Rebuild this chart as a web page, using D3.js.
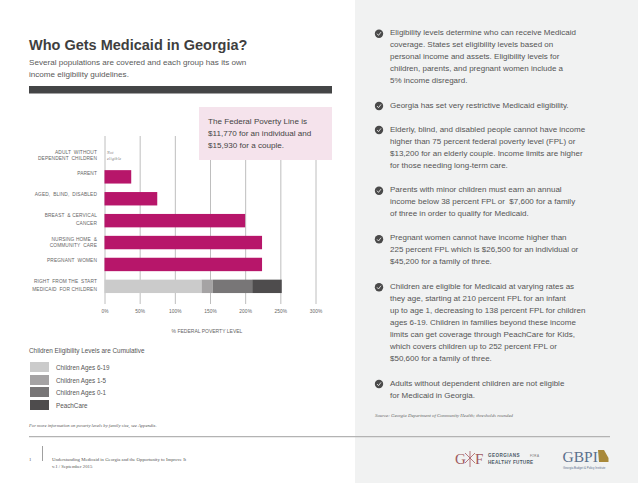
<!DOCTYPE html>
<html><head><meta charset="utf-8">
<script src="https://cdnjs.cloudflare.com/ajax/libs/d3/7.8.5/d3.min.js"></script>
<style>html,body{margin:0;padding:0;background:#fff}svg{display:block}text{font-family:"Liberation Sans",Arial,sans-serif}</style>
</head><body><svg id="c" width="638" height="493"></svg>
<script>
const categories=[["ADULT  WITHOUT","DEPENDENT  CHILDREN"],["PARENT"],["AGED,  BLIND,  DISABLED"],["BREAST  & CERVICAL","CANCER"],["NURSING HOME  &","COMMUNITY  CARE"],["PREGNANT  WOMEN"],["RIGHT  FROM THE  START","MEDICAID  FOR CHILDREN"]];
const groupValues=[0,38,75,200,224,224];
const childSeries=["Children Ages 6-19","Children Ages 1-5","Children Ages 0-1","PeachCare"];
const childLimits=[138,154,210,252];
const childColors=["#cbcbcb","#a5a3a4","#787677","#4e4c4d"];
const ticks=[0,50,100,150,200,250,300];
const bulletTexts=[
 ["Eligibility levels determine who can receive Medicaid","coverage. States set eligibility levels based on","personal income and assets. Eligibility levels for","children, parents, and pregnant women include a","5% income disregard."],
 ["Georgia has set very restrictive Medicaid eligibility."],
 ["Elderly, blind, and disabled people cannot have income","higher than 75 percent federal poverty level (FPL) or","$13,200 for an elderly couple. Income limits are higher","for those needing long-term care."],
 ["Parents with minor children must earn an annual","income below 38 percent FPL or  $7,600 for a family","of three in order to qualify for Medicaid."],
 ["Pregnant women cannot have income higher than","225 percent FPL which is $26,500 for an individual or","$45,200 for a family of three."],
 ["Children are eligible for Medicaid at varying rates as","they age, starting at 210 percent FPL for an infant","up to age 1, decreasing to 138 percent FPL for children","ages 6-19. Children in families beyond these income","limits can get coverage through PeachCare for Kids,","which covers children up to 252 percent FPL or","$50,600 for a family of three."],
 ["Adults without dependent children are not eligible","for Medicaid in Georgia."]
];
const svg=d3.select("#c");
const ink="#4a4a4a";
function T(x,y,s,o={}){return svg.append("text").attr("x",x).attr("y",y).text(s).attr("font-size",o.size||8.4).attr("fill",o.fill||ink).attr("text-anchor",o.anchor||"start").attr("font-weight",o.weight||null).attr("font-style",o.style||null).style("font-family",o.family||null).style("letter-spacing",o.ls||null).style("white-space","pre")}
function R(x,y,w,h,f){return svg.append("rect").attr("x",x).attr("y",y).attr("width",w).attr("height",h).attr("fill",f)}
R(355,0,283,483,"#f1f2f2");
T(29,49.500,"Who Gets Medicaid in Georgia?",{size:14.500,weight:700,fill:"#3f3f3f"});
T(29,64.500,"Several populations are covered and each group has its own",{size:8.100,fill:"#5a5a5a"});
T(29,76.500,"income eligibility guidelines.",{size:8.100,fill:"#5a5a5a"});
R(29,86,303,7.500,"#444546");
const x=d3.scaleLinear().domain([0,300]).range([104.500,315.500]);
const y=d3.scaleBand().domain(categories.map((d,i)=>i)).range([144,297.300]).paddingInner(.388).paddingOuter(.194);
const axis=d3.axisBottom(x).tickValues(ticks).tickFormat(d=>d+"%").tickSize(-168).tickPadding(6);
const ax=svg.append("g").attr("transform","translate(0,304)").call(axis);
ax.select(".domain").remove();
ax.selectAll("line").attr("stroke","#adadad").attr("stroke-width",.8);
ax.selectAll("text").attr("font-size",4.800).attr("fill","#666").style("font-family","'Liberation Sans'").style("letter-spacing",".1px").attr("dy",".7em");
R(199,107,133,53,"#f5e3ec");
["The Federal Poverty Line is","$11,770 for an individual and","$15,930 for a couple."].forEach((s,i)=>T(208,124+i*11.800,s,{size:8.100,fill:"#444"}));
groupValues.forEach((v,i)=>{if(v>0)svg.append("rect").attr("x",x(0)).attr("y",y(i)).attr("width",x(v)-x(0)).attr("height",y.bandwidth()).attr("fill","#b7166a")});
childLimits.forEach((v,i)=>{const a=i?childLimits[i-1]:0;svg.append("rect").attr("x",x(a)).attr("y",y(6)).attr("width",x(v)-x(a)).attr("height",y.bandwidth()).attr("fill",childColors[i])});
const labelY=[[154,160],[175],[196],[217,225],[241,247],[262],[283,291]];
categories.forEach((c,i)=>c.forEach((s,j)=>T(97,labelY[i][j],s,{size:4.800,anchor:"end",fill:"#666",ls:".12px"})));
T(107,154,"Not",{size:4,style:"italic",family:"Liberation Serif",fill:"#777",ls:".3px"});
T(107,160,"eligible",{size:4,style:"italic",family:"Liberation Serif",fill:"#777",ls:".3px"});
T(207,333,"% FEDERAL POVERTY LEVEL",{size:5,anchor:"middle",fill:"#666"});
T(29,353,"Children Eligibility Levels are Cumulative",{size:6.400,fill:"#555"});
childSeries.forEach((s,i)=>{const ly=[362,375,387,400][i];R(30,ly,19,10,childColors[i]);T(56,ly+7.500,s,{size:6.300,fill:"#555"})});
T(29,427,"For more information on poverty levels by family size, see Appendix.",{size:4.650,style:"italic",family:"Liberation Serif",fill:"#555"});
svg.append("line").attr("x1",29).attr("x2",610).attr("y1",436.700).attr("y2",436.700).attr("stroke","#b3b3b3").attr("stroke-width",1.200);
svg.append("line").attr("x1",42.500).attr("x2",42.500).attr("y1",446).attr("y2",461).attr("stroke","#777").attr("stroke-width",.7);
T(29,461,"1",{size:4.750,family:"Liberation Serif",fill:"#555"});
T(52,461,"Understanding Medicaid in Georgia and the Opportunity to Improve It",{size:4.750,family:"Liberation Serif",fill:"#555"});
T(52,468,"v.1 / September 2015",{size:4.750,family:"Liberation Serif",fill:"#555"});
const textY=[34.500,107.800,131.800,191.800,240.200,288.500,386];
const dotY=[33.700,106,130,190.700,239.300,287.300,384];
bulletTexts.forEach((lines,k)=>{
 const g=svg.append("g").attr("transform",`translate(379,${dotY[k]})`);
 g.append("circle").attr("r",4.200).attr("fill","#4a4a4a");
 g.append("path").attr("d","M-2,0L-.5,1.700L2,-1.600").attr("fill","none").attr("stroke","#e8e8e8").attr("stroke-width",.9);
 lines.forEach((s,i)=>T(390,textY[k]+i*12,s,{size:8,fill:"#555"}));
});
T(375,417,"Source: Georgia Department of Community Health; thresholds rounded",{size:4.800,style:"italic",family:"Liberation Serif",fill:"#666"});
const lg=svg.append("g").attr("fill","none").attr("stroke","#a8585f").attr("stroke-width",.8);
T(455,464,"G",{size:15,family:"Liberation Serif",fill:"#a05a60"});
lg.append("path").attr("d","M470,451L470,467M465,453L475,463M475,453L465,463");
T(475,464,"F",{size:15,family:"Liberation Serif",fill:"#a05a60"});
T(488,457,"GEORGIANS",{size:4.600,weight:700,fill:"#4d5a68",ls:".45px"});
T(530,457,"FOR A",{size:3,fill:"#777"});
T(488,464,"HEALTHY FUTURE",{size:4.600,weight:700,fill:"#4d5a68",ls:".3px"});
T(562.500,461.500,"GBPI",{size:15.500,family:"Liberation Serif",fill:"#5b6f8c"});
svg.append("path").attr("d","M598,450L604,450L608.500,458L608.500,462L599,462Z").attr("fill","#a8893a");
T(563,468.500,"Georgia Budget & Policy Institute",{size:2.900,fill:"#5b6f8c"});
</script></body></html>
